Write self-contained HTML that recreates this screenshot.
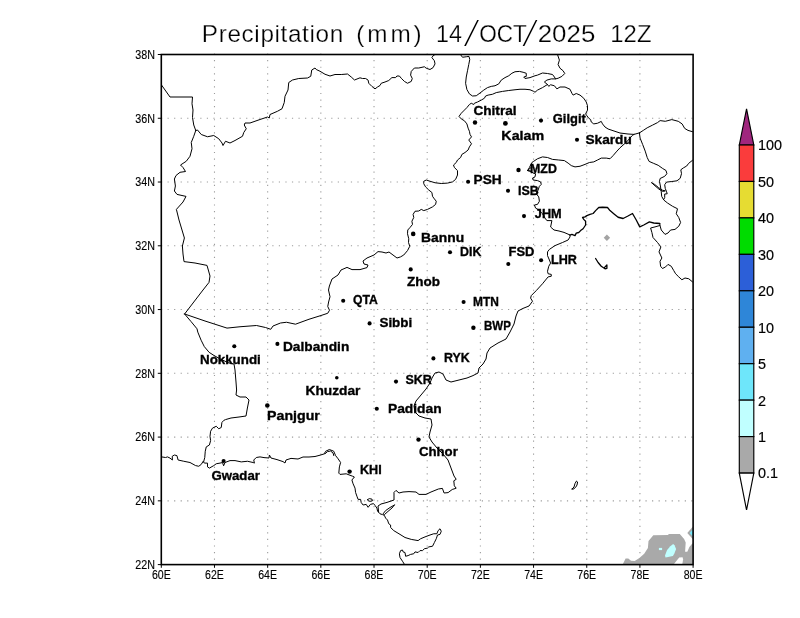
<!DOCTYPE html>
<html lang="en"><head><meta charset="utf-8"><title>Precipitation (mm) 14/OCT/2025 12Z</title>
<style>
html,body{margin:0;padding:0;background:#fff;}
body{width:800px;height:618px;overflow:hidden;}
svg{display:block;}
text{font-family:"Liberation Sans",sans-serif;fill:#000;}
.ttl{font-size:24.3px;stroke:#fff;stroke-width:0.25px;paint-order:fill stroke;}
.sl{font-size:38px;stroke:#fff;stroke-width:1.95px;paint-order:fill stroke;}
.ax{font-size:11.9px;stroke:#000;stroke-width:0.12px;}
.cb{font-size:14.4px;stroke:#000;stroke-width:0.18px;}
.st{font-weight:bold;font-size:13.5px;stroke:#000;stroke-width:0.35px;}
.b{fill:none;stroke:#000;stroke-width:1;stroke-linejoin:round;stroke-linecap:round;}
.bt{fill:none;stroke:#000;stroke-width:1.3;stroke-linejoin:round;stroke-linecap:round;}
.g{fill:none;stroke:#9c9c9c;stroke-width:1.1;}
.gv{stroke-dasharray:1.2 5.358;}
.gh{stroke-dasharray:1.2 5.347;}
</style></head><body><div style="will-change:transform;width:800px;height:618px">
<svg width="800" height="618" viewBox="0 0 800 618">
<rect x="0" y="0" width="800" height="618" fill="#fff"/>
<defs><clipPath id="mc"><rect x="161.3" y="54.5" width="531.80" height="510.10"/></clipPath></defs>
<g clip-path="url(#mc)">
<polygon fill="#a9a9a9" points="621.9,566 625.6,558.6 628.3,558.4 631,560.7 634.7,560.9 639.4,558 644.2,553.8 647.9,548 648.5,541 653.3,535.2 668.1,535 668.7,534.1 679.8,534.1 684.1,538.9 685.7,542.6 685.1,551.7 687.3,551.7 689.4,546.9 692.3,543.5 695,543.5 695,566"/>
<polygon fill="#fff" points="672.4,566 679.2,557.4 682.6,557.2 683.1,559.6 682,566"/>
<polygon fill="#c0ffff" points="665.5,557.5 665,555.4 667.1,550 670.3,546.3 673.2,543.9 674.5,545.3 676.1,549 674.5,553.3 672.9,555.9 668.1,557"/>
<rect x="658.9" y="547.9" width="3.2" height="2.2" fill="#c0ffff"/>
<polygon fill="#a9a9a9" points="687.3,532.9 695,524.1 695,541.7"/>
<polygon fill="#78e8fb" points="689.6,532.9 695,526.8 695,539"/>
</g>
<line class="g gv" x1="214.48" y1="53.55" x2="214.48" y2="564.60"/>
<line class="g gv" x1="267.66" y1="53.55" x2="267.66" y2="564.60"/>
<line class="g gv" x1="320.84" y1="53.55" x2="320.84" y2="564.60"/>
<line class="g gv" x1="374.02" y1="53.55" x2="374.02" y2="564.60"/>
<line class="g gv" x1="427.20" y1="53.55" x2="427.20" y2="564.60"/>
<line class="g gv" x1="480.38" y1="53.55" x2="480.38" y2="564.60"/>
<line class="g gv" x1="533.56" y1="53.55" x2="533.56" y2="564.60"/>
<line class="g gv" x1="586.74" y1="53.55" x2="586.74" y2="564.60"/>
<line class="g gv" x1="639.92" y1="53.55" x2="639.92" y2="564.60"/>
<line class="g gh" x1="161.0" y1="118.26" x2="693.10" y2="118.26"/>
<line class="g gh" x1="161.0" y1="182.03" x2="693.10" y2="182.03"/>
<line class="g gh" x1="161.0" y1="245.79" x2="693.10" y2="245.79"/>
<line class="g gh" x1="161.0" y1="309.55" x2="693.10" y2="309.55"/>
<line class="g gh" x1="161.0" y1="373.31" x2="693.10" y2="373.31"/>
<line class="g gh" x1="161.0" y1="437.08" x2="693.10" y2="437.08"/>
<line class="g gh" x1="161.0" y1="500.84" x2="693.10" y2="500.84"/>
<polygon fill="#a4a4a4" points="606.9,234.5 610.1,237.7 606.9,240.9 603.7,237.7"/>
<g clip-path="url(#mc)">
<polyline class="b" points="161.5,85 170,97 192.5,97 192,103.75 193,110 192.5,117.5 193.75,125 195.75,130.5"/>
<polyline class="b" points="195.75,130.5 197.5,130 201.25,134.5 207.5,136.75 213.75,135.5 218.75,138.75 222,143 223,145.5 225.5,141.25 230,143 235,140.5 242.5,136.25 243.75,132.5 246.25,128.75 244.25,125 245,123 250,123 260,119.5 267.5,117 269.25,118 270,114.5 277.5,111.25 282,108.75 284.25,102.5 285,96.25 288,90 288.75,82.5 292.5,80 298.75,78.5 307.5,78 310.75,76.25 311.75,70 315,68 316.25,69.5 320,71.25 325,74.25 330,76 335,74.5 341.25,74.5 347.5,74 351.25,77 354.5,80 360,77.8 362.5,78.5 365.6,78.5 368.1,80.1 368.75,83.25 371.9,86.4 375,88.9 377.5,87 380,85.5 381.25,83.25 385,82 388.75,80.5 391.9,77.6 395.6,77.6 396.9,76 399.4,76 401.25,78.25 404.4,81.4 407.5,83.25 411.25,81.4 412.25,78.5 410.6,75.1 411.25,71.4 414.4,68 418.75,68 424.4,66.75 426.25,68.25 430,69.5 433.1,67.6 435,63.9 434.4,60.75 431.9,57.6 433.1,55.75 435,54.5"/>
<polyline class="b" points="195.75,130.5 193.75,136.25 191.25,142.5 192,148.75 190,156.25 186.25,161.25 180.5,165 183,167.5 185.5,171.5 180,172.3 176,175.5 174.4,179 175.4,186 174.4,191 177,194.4 186,196.4 183,202 176.4,209.4 179,220 182,230 184.4,238 182.4,246 183,254 184,261.6 195,263 207,265.4 210,276 209,282.4 203,290 184.6,314"/>
<polyline class="b" points="460.4,54.5 462.5,57.25 466.25,56.75 469,56.4 469.75,59.5 468.75,64.5 467.5,70.75 466.25,77 465.6,83.25 466.9,89.5 469.4,93.9 472.5,96 476.25,95.75 480,93 483.75,90.1 487.5,87.6 491.25,86.4 495,85.75 498.75,83.9 501.25,80.1 505,77.6 508.75,75.75 511.9,73.25 515,71.75 519.4,71.4 523.1,72.25 526.25,73.25 526.25,76.4 523.75,77 525,78.5 530,77.6 535,75.75 537.5,75.1 542.5,73 547.5,73.5 552.5,74.5 554.4,77 555.6,78.9 558.1,78.25 561.9,76.4 564.75,73.5 563.1,70.75 560,68.25 558.1,64.5 559.4,60.1 557.5,54.5"/>
<polyline class="b" points="555.6,78.9 551.25,78.9 546.9,80.1 544.4,82 547.5,84.5 548.75,86.4 550.6,84.75 554.4,85.75 556.9,88.9 560,87 565,87 570,89.25 571.9,93.25 573.1,95.1 576.25,93.5 580,95.1 583.75,98.25 586.25,102 587.5,105.75 587.5,110.1 585.6,113.9 586.9,115.75 588.75,118.25 590.6,119.5 591.25,122 593.75,123.9 597.5,123.25 601.25,121.4 602.5,123.9 605,127 608.1,129 614,131 620,133 628,134 634,134.4 639.4,132.9"/>
<polyline class="b" points="547.5,84.5 542.5,87.6 537.5,90.1 535,92.25 533.75,91.4 530,89.75 525,89.25 520,89.25 515,89.75 508.75,90.5 502.5,91.4 496.25,92.6 492.5,94.25 488.1,95.1 485.6,96 484.4,98.25 481.25,100.1 477.5,102 474.4,103.25 473.75,104.5 471.25,103.25 469.4,104.5 466.9,107.6 464.4,110.1 461.25,113.25 459,116.4 461.25,118.9 464.4,120.75 466.9,123.9 468.1,128.1 469.4,131.25 470,134.4 471.5,136.9 468.75,140 471.5,143.75 469.4,146.9 468.1,150 465,152.5 461.9,154.4 460.6,157.5 457.5,160 456.25,162.5 453.5,165 454.4,167.5 457.5,170.6 457.5,175 455.6,179.4 452.5,181.9 447.5,183.1 441.25,183.5 435,182.75 430,181.25 426.25,180 423.75,181.25 423.75,183.75 425.6,186.9 428.75,190 431.9,192.5 432.5,196.25 433.75,198.1 436.25,201.25 435.6,204.4 432.5,206.9 427.5,209.4 423.75,210.6 421.25,209.4 418.75,211 415,211.25 413.1,214.4 413.75,217.5 411.9,221.25 412.5,224.4 410,227.5 407.75,230 407.5,233.75 408.75,238.75 408.5,242.5 409.75,246.25 407.5,250.6 403.75,255 400.5,256.9 397,258 393,255 389,252 386,253 382,252 378,251.6 374,255 367,258 363,261 364,264 368,265 367,267.6 360,269.6 352,269.6 347,267.4 341,270 338,275 332,279 329.4,286 328.5,290 330,296.75 328.6,302 327.75,306.5 329.5,310.25 327.75,313.25 321,315.5 309,319.25 295.5,324.2 286.5,322.25 280.5,323 273,326 270.75,329.3 265.5,327.5 256.5,325.5 240,326.75 227,328.1 205,321 184.6,314"/>
<polyline class="b" points="184.6,314 191,321.5 197,328.8 197.8,332.1 201.1,340.2 204.3,346.6 209.1,352.3 214,355.5 221,359.4 229,363 234,364 235,370 236,382 236.6,390 236,395 240,397 246,397 249,400 247.4,408 246,416 239,417 231,418 225.5,419.6 223.75,420.4 221.9,422.5 221.25,427.5 218.75,428.75 216.25,426.25 212.5,428.1 210.6,431.25 210,436.25 210.6,440.6 209.4,445 206.25,446.9 205.25,451.25 204.75,457.5 203.6,461.9"/>
<polyline class="b" points="161.5,456.9 165.6,457.5 167.5,456.9 170,458.1 172.4,460 172.25,456.25 174.4,455 176.9,455.6 178.1,460 183.75,461.25 190,462.5 195.6,465.6 198.75,466.25 201.25,464.4 203.1,461.4 204.4,463.1 207.5,463.1 207.5,466.9 209.4,468.1 213.75,465.6 216.25,463.75 220,463.1 222.5,462.5 223.6,465.8 225,462.5 230,460.6 235,460.6 241.25,461.9 247.5,461.25 253.1,462.5 254.4,463.1 253.75,460 256.25,457.5 260,456.9 264,457.6 269,458 269.4,455 271,458 277,459.6 283,461.6 285,463 286,460 291,458.4 298,459 303,457 309,457 315,456.5 320,455.2 324.2,453.9 325.6,451.3 329.4,449.5 333.7,451.2 335.6,455.6 338.1,458.8 340.6,462.5 339.4,466.9 338.8,473.1 340,474.4 346.2,473.8 352.5,476.2 354.4,477 351.9,480 353.1,483.8 355,488.1 355.6,492.5 356.9,496.2 358.1,499.4 360.6,499.4 361.2,502.5 363.1,505 366.2,504.4 368.1,507.3 370.4,504.4 373.5,503.6 375,505.4 376.9,508.1 377.6,511.2 380,513.8 382.5,514.6 384.4,515.4 385.6,518.1 387.5,520 388.75,523.75 390.6,525 390.6,527.5 393.75,530.6 400,534.4 405,537.5 411.25,539.4 418.1,540.6 420.6,538.75 425,536.9 430,535 433.75,533.75 436.9,533.75 438.1,530.6 440,528.75 441.25,531.25 440,534.4 437.5,535 436.25,538.75 434.4,542.5 432.5,546.25 428.75,546.9 427.5,548.1 424.4,548.75 422.5,550.6 420,550.6 418.1,552.5 415,551.9 413.75,553.75 410.6,554.4 408.1,555.6 405.6,556.25 405,552.5 403.1,551.9 402.5,550 400.6,550.6 399.4,553.75 400,557.5 402.5,561.25 404.6,564.6"/>
<polyline class="b" points="325,453.8 327.5,451.6 330.6,451 333.1,453.1 333.8,455.6"/>
<polyline class="b" points="367.6,499.6 369.4,498.6 372,499.2 372.6,500.6 370.4,501.4 368.2,500.8 367.6,499.6"/>
<polyline class="b" points="394.4,505 390,507.5 385.6,510.6 383.1,513.8 384.4,514.6 388,511.4 392,508 394.4,505"/>
<polyline class="b" points="570,235 570,236.9 568.1,240 562.5,242.5 555,245.6 549.4,249.4 547.5,251.9 547.5,255.6 549.4,260 550.6,263.1 548.75,266.25 547.5,271.25 548.1,273.75 551.25,274.4 551.25,276.25 548.1,276.9 542.5,283.75 536.25,290.6 531.25,295.6 530.6,298.1 532.5,301.25 529,306 523,308.4 518,311 516,316 514,324 510,332 506,339 498,343 490,348 487,353 486,359 483,364 479,368 478,373 473,375.6 467,378 459,380 451,382 446,380 443,374 439,372 435,373 432,378 430,383 426,389 421,395 416,401 414,406 415,412 419,416 425,418 431,419 432,425 430,432 429,437 432,442 437,448 443,454 448,460 451,468 454,476 456.2,479.3 453.8,480.8 454.3,485.8 456.2,488.2 452.2,489.5 448.1,492.6 444.1,493 442.4,488.4 438.4,489 431,492 426,494.4 419,494.4 416,492 409,491.6 403,492 399,493 396,490.4 394,492.4 394,500 387,502.4 381,504 378,506 378.6,512"/>
<polyline class="b" points="570,235 564,232.4 559,231 554,230 550.6,227 551.9,220.6 546.9,220.6 545,218.1 542.5,213.75 538.75,210 535.6,208.1 534.4,205 537.5,204.4 539.4,201.25 538.75,196.9 536.25,193.75 538.1,190 539.4,186.25 541.25,184.4 540.6,181.9 537.5,180.6 533.1,180 532.5,178.1 535,176.9 535.6,173.75 533.1,173.1 531.25,171.25 527.5,170.6 529.4,167.5 531.9,162.5 533.75,161.25 537.5,158.75 542.5,156.9 547.5,157.5 552.5,159.4 558.75,160 564.4,160.6 568.1,163.1 571.25,165.6 575,166.9 580,166.25 585,164.4 589.4,162.5 593.75,161.9 597.5,160 601.25,158.1 606.25,158.1 610,158.75 613.1,155.6 616.25,151.9 620,147.8 626.5,142 632.3,135.5 634,134.4"/>
<polyline class="bt" points="570,235 571.9,234.4 575,235.6 576.25,233.1 578.75,232.5 580.6,230.6 583.1,228.75 585.6,225 585.6,221.25 583.75,219.4 582.5,217.5 585,216.9 586.9,215.6 590,214.4 593.1,213.5 595.6,210.6 598.75,207.5 602.5,207.25 607.5,207.5 610,210.6 613.75,213.75 618.1,217.25 623.1,218.5 627.5,216.25 632.5,213.5 636.25,220 639.75,226.9 643.75,225 649.4,221.9 653.75,223 659.75,223.5"/>
<polyline class="b" points="639.4,132.9 640.1,138.1 642.7,144.6 645.2,151.1 647.2,157.5 649.1,161.4 653.7,163.4 658.2,165.3 662.7,168.5 666,170.5 666.9,173.7 664.7,176.3 660.1,178.5 659.5,181.5 660.4,186 661.2,191.2 661.7,196.4 663.75,200 667.5,203 672.5,206.25 677.5,208.75 676.25,213.75 678.75,217.5 680.6,222.5 678.75,226.25 675,229.4 670.6,230 668,233 665,234.4 661.25,230 660,225.6 659.75,223.5"/>
<polyline class="b" points="639.4,132.9 643.3,130.4 647.2,127.8 652.4,125.2 657.5,122.6 660.1,120.6 665.3,121.3 671.8,119.6 678.25,121.3 682.1,123.9 684.7,128.4 688,130.4 692.5,131.7"/>
<polyline class="b" points="692.5,160.3 688.6,163.4 686.7,166 683.4,167.9 680.8,169.8 681.5,173.7 680.2,178.3 677,180.8 671.8,181.5 666.6,182.1 664.7,184.7 665.3,188.6 666.6,191.8 667.2,193.8 664.7,194 664.7,197.7 663.6,199.6"/>
<polyline class="b" points="651.7,182.8 655,185.8 659,189.2 662.7,191.4 665.3,190.9 662.4,190.2 658.6,187.6 654.6,184.4 651.7,182.8"/>
<polyline class="b" points="659.9,225.5 655,226.9 650.6,228 651.9,232.5 653,237.5 657.5,242.5 660.9,246.9 659,251.9 661.9,258 660,261.25 660.6,266.25 662.5,268.5 665.6,266.9 668,264.4 671.25,266.25 673.75,270.6 675.6,273.75 678.75,276.9 681.9,279.75 685,278 688.75,278.75 692.5,281.9"/>
<polyline class="bt" points="595.6,258.5 598.1,262.5 601.25,266.25 605,268.75 606.9,268.3 606.9,265 604.6,267.4"/>
<polyline class="b" points="572,489 574,487 575,483.5 576.5,481 577.6,482 577,485 575.5,487.5 573,489.3 572,489"/>
<polyline class="b" points="527.5,170.5 531.6,167 531.6,171.5 527.5,170.5"/>
</g>
<rect x="161.3" y="54.5" width="531.80" height="510.10" fill="none" stroke="#000" stroke-width="1.6"/>
<line x1="161.30" y1="564.60" x2="161.30" y2="567.80" stroke="#000" stroke-width="1"/>
<text class="ax" x="161.30" y="578.5" text-anchor="middle" textLength="18.8" lengthAdjust="spacingAndGlyphs">60E</text>
<line x1="214.48" y1="564.60" x2="214.48" y2="567.80" stroke="#000" stroke-width="1"/>
<text class="ax" x="214.48" y="578.5" text-anchor="middle" textLength="18.8" lengthAdjust="spacingAndGlyphs">62E</text>
<line x1="267.66" y1="564.60" x2="267.66" y2="567.80" stroke="#000" stroke-width="1"/>
<text class="ax" x="267.66" y="578.5" text-anchor="middle" textLength="18.8" lengthAdjust="spacingAndGlyphs">64E</text>
<line x1="320.84" y1="564.60" x2="320.84" y2="567.80" stroke="#000" stroke-width="1"/>
<text class="ax" x="320.84" y="578.5" text-anchor="middle" textLength="18.8" lengthAdjust="spacingAndGlyphs">66E</text>
<line x1="374.02" y1="564.60" x2="374.02" y2="567.80" stroke="#000" stroke-width="1"/>
<text class="ax" x="374.02" y="578.5" text-anchor="middle" textLength="18.8" lengthAdjust="spacingAndGlyphs">68E</text>
<line x1="427.20" y1="564.60" x2="427.20" y2="567.80" stroke="#000" stroke-width="1"/>
<text class="ax" x="427.20" y="578.5" text-anchor="middle" textLength="18.8" lengthAdjust="spacingAndGlyphs">70E</text>
<line x1="480.38" y1="564.60" x2="480.38" y2="567.80" stroke="#000" stroke-width="1"/>
<text class="ax" x="480.38" y="578.5" text-anchor="middle" textLength="18.8" lengthAdjust="spacingAndGlyphs">72E</text>
<line x1="533.56" y1="564.60" x2="533.56" y2="567.80" stroke="#000" stroke-width="1"/>
<text class="ax" x="533.56" y="578.5" text-anchor="middle" textLength="18.8" lengthAdjust="spacingAndGlyphs">74E</text>
<line x1="586.74" y1="564.60" x2="586.74" y2="567.80" stroke="#000" stroke-width="1"/>
<text class="ax" x="586.74" y="578.5" text-anchor="middle" textLength="18.8" lengthAdjust="spacingAndGlyphs">76E</text>
<line x1="639.92" y1="564.60" x2="639.92" y2="567.80" stroke="#000" stroke-width="1"/>
<text class="ax" x="639.92" y="578.5" text-anchor="middle" textLength="18.8" lengthAdjust="spacingAndGlyphs">78E</text>
<line x1="693.10" y1="564.60" x2="693.10" y2="567.80" stroke="#000" stroke-width="1"/>
<text class="ax" x="693.10" y="578.5" text-anchor="middle" textLength="18.8" lengthAdjust="spacingAndGlyphs">80E</text>
<line x1="157.80" y1="54.50" x2="161.30" y2="54.50" stroke="#000" stroke-width="1"/>
<text class="ax" x="154.9" y="58.80" text-anchor="end" textLength="19.7" lengthAdjust="spacingAndGlyphs">38N</text>
<line x1="157.80" y1="118.26" x2="161.30" y2="118.26" stroke="#000" stroke-width="1"/>
<text class="ax" x="154.9" y="122.56" text-anchor="end" textLength="19.7" lengthAdjust="spacingAndGlyphs">36N</text>
<line x1="157.80" y1="182.03" x2="161.30" y2="182.03" stroke="#000" stroke-width="1"/>
<text class="ax" x="154.9" y="186.33" text-anchor="end" textLength="19.7" lengthAdjust="spacingAndGlyphs">34N</text>
<line x1="157.80" y1="245.79" x2="161.30" y2="245.79" stroke="#000" stroke-width="1"/>
<text class="ax" x="154.9" y="250.09" text-anchor="end" textLength="19.7" lengthAdjust="spacingAndGlyphs">32N</text>
<line x1="157.80" y1="309.55" x2="161.30" y2="309.55" stroke="#000" stroke-width="1"/>
<text class="ax" x="154.9" y="313.85" text-anchor="end" textLength="19.7" lengthAdjust="spacingAndGlyphs">30N</text>
<line x1="157.80" y1="373.31" x2="161.30" y2="373.31" stroke="#000" stroke-width="1"/>
<text class="ax" x="154.9" y="377.61" text-anchor="end" textLength="19.7" lengthAdjust="spacingAndGlyphs">28N</text>
<line x1="157.80" y1="437.08" x2="161.30" y2="437.08" stroke="#000" stroke-width="1"/>
<text class="ax" x="154.9" y="441.38" text-anchor="end" textLength="19.7" lengthAdjust="spacingAndGlyphs">26N</text>
<line x1="157.80" y1="500.84" x2="161.30" y2="500.84" stroke="#000" stroke-width="1"/>
<text class="ax" x="154.9" y="505.14" text-anchor="end" textLength="19.7" lengthAdjust="spacingAndGlyphs">24N</text>
<line x1="157.80" y1="564.60" x2="161.30" y2="564.60" stroke="#000" stroke-width="1"/>
<text class="ax" x="154.9" y="568.90" text-anchor="end" textLength="19.7" lengthAdjust="spacingAndGlyphs">22N</text>
<text class="sl" x="461.80" y="47" textLength="19.5" lengthAdjust="spacingAndGlyphs">/</text>
<text class="sl" x="520.30" y="47" textLength="19.5" lengthAdjust="spacingAndGlyphs">/</text>
<text class="ttl" x="201.84" y="41.9" textLength="141.38" lengthAdjust="spacing">Precipitation</text>
<text class="ttl" x="356.30" y="41.9" textLength="65.30" lengthAdjust="spacing">(mm)</text>
<text class="ttl" x="435.92" y="41.9" textLength="25.96" lengthAdjust="spacingAndGlyphs">14</text>
<text class="ttl" x="479.18" y="41.9" textLength="47.70" lengthAdjust="spacingAndGlyphs">OCT</text>
<text class="ttl" x="537.68" y="41.9" textLength="57.62" lengthAdjust="spacingAndGlyphs">2025</text>
<text class="ttl" x="610.30" y="41.9" textLength="41.20" lengthAdjust="spacingAndGlyphs">12Z</text>
<polygon points="739.3,145.0 746.55,108.8 753.8,145.0" fill="#a0267e" stroke="#000" stroke-width="1.15" stroke-linejoin="miter"/>
<rect x="739.3" y="145.00" width="14.50" height="36.45" fill="#fa3c3c" stroke="#000" stroke-width="1.15"/>
<rect x="739.3" y="181.45" width="14.50" height="36.45" fill="#e6dc32" stroke="#000" stroke-width="1.15"/>
<rect x="739.3" y="217.90" width="14.50" height="36.45" fill="#00dc00" stroke="#000" stroke-width="1.15"/>
<rect x="739.3" y="254.35" width="14.50" height="36.45" fill="#2c5fd8" stroke="#000" stroke-width="1.15"/>
<rect x="739.3" y="290.80" width="14.50" height="36.45" fill="#2e86d8" stroke="#000" stroke-width="1.15"/>
<rect x="739.3" y="327.25" width="14.50" height="36.45" fill="#5fb0f0" stroke="#000" stroke-width="1.15"/>
<rect x="739.3" y="363.70" width="14.50" height="36.45" fill="#6ee6fa" stroke="#000" stroke-width="1.15"/>
<rect x="739.3" y="400.15" width="14.50" height="36.45" fill="#c0ffff" stroke="#000" stroke-width="1.15"/>
<rect x="739.3" y="436.60" width="14.50" height="36.45" fill="#a9a9a9" stroke="#000" stroke-width="1.15"/>
<polygon points="739.3,473.05 746.55,510 753.8,473.05" fill="#fff" stroke="#000" stroke-width="1.15" stroke-linejoin="miter"/>
<text class="cb" x="757.9" y="150.40">100</text>
<text class="cb" x="757.9" y="186.85">50</text>
<text class="cb" x="757.9" y="223.30">40</text>
<text class="cb" x="757.9" y="259.75">30</text>
<text class="cb" x="757.9" y="296.20">20</text>
<text class="cb" x="757.9" y="332.65">10</text>
<text class="cb" x="757.9" y="369.10">5</text>
<text class="cb" x="757.9" y="405.55">2</text>
<text class="cb" x="757.9" y="442.00">1</text>
<text class="cb" x="757.9" y="478.45">0.1</text>
<circle cx="475" cy="122.5" r="2.2" fill="#000"/>
<text class="st" x="473.40" y="114.6" textLength="43.22" lengthAdjust="spacingAndGlyphs">Chitral</text>
<circle cx="505.4" cy="123.4" r="2.4" fill="#000"/>
<text class="st" x="501.35" y="140" textLength="42.77" lengthAdjust="spacingAndGlyphs">Kalam</text>
<circle cx="541" cy="120.6" r="2.05" fill="#000"/>
<text class="st" x="552.82" y="122.8" textLength="33.00" lengthAdjust="spacingAndGlyphs">Gilgit</text>
<circle cx="577" cy="139.8" r="2.05" fill="#000"/>
<text class="st" x="585.52" y="143.6" textLength="46.30" lengthAdjust="spacingAndGlyphs">Skardu</text>
<circle cx="518.5" cy="170" r="2.2" fill="#000"/>
<text class="st" x="530.06" y="172.5" textLength="26.84" lengthAdjust="spacingAndGlyphs">MZD</text>
<circle cx="468.1" cy="181.7" r="2.05" fill="#000"/>
<text class="st" x="473.60" y="184.4" textLength="28.10" lengthAdjust="spacingAndGlyphs">PSH</text>
<circle cx="508" cy="190.8" r="2.05" fill="#000"/>
<text class="st" x="517.94" y="194.5" textLength="20.80" lengthAdjust="spacingAndGlyphs">ISB</text>
<circle cx="524" cy="216.1" r="2.05" fill="#000"/>
<text class="st" x="534.82" y="218.4" textLength="26.88" lengthAdjust="spacingAndGlyphs">JHM</text>
<circle cx="413.2" cy="233.9" r="2.3" fill="#000"/>
<text class="st" x="421.10" y="241.8" textLength="43.10" lengthAdjust="spacingAndGlyphs">Bannu</text>
<circle cx="450" cy="252.2" r="2.05" fill="#000"/>
<text class="st" x="460.06" y="255.9" textLength="21.34" lengthAdjust="spacingAndGlyphs">DIK</text>
<circle cx="508.3" cy="264" r="2.05" fill="#000"/>
<text class="st" x="508.52" y="255.8" textLength="25.84" lengthAdjust="spacingAndGlyphs">FSD</text>
<circle cx="541.1" cy="260.2" r="2.05" fill="#000"/>
<text class="st" x="550.94" y="263.6" textLength="25.92" lengthAdjust="spacingAndGlyphs">LHR</text>
<circle cx="410.7" cy="269.4" r="2.05" fill="#000"/>
<text class="st" x="406.98" y="285.8" textLength="32.92" lengthAdjust="spacingAndGlyphs">Zhob</text>
<circle cx="343.2" cy="300.8" r="2.05" fill="#000"/>
<text class="st" x="352.98" y="303.7" textLength="24.84" lengthAdjust="spacingAndGlyphs">QTA</text>
<circle cx="463.6" cy="302" r="2.05" fill="#000"/>
<text class="st" x="472.98" y="305.6" textLength="25.84" lengthAdjust="spacingAndGlyphs">MTN</text>
<circle cx="369.6" cy="323.4" r="2.05" fill="#000"/>
<text class="st" x="379.44" y="326.8" textLength="32.76" lengthAdjust="spacingAndGlyphs">Sibbi</text>
<circle cx="473.4" cy="327.8" r="2.2" fill="#000"/>
<text class="st" x="483.98" y="330.4" textLength="26.84" lengthAdjust="spacingAndGlyphs">BWP</text>
<circle cx="234.3" cy="346.3" r="2.05" fill="#000"/>
<text class="st" x="200.02" y="363.6" textLength="60.76" lengthAdjust="spacingAndGlyphs">Nokkundi</text>
<circle cx="277.4" cy="343.9" r="2.05" fill="#000"/>
<text class="st" x="282.98" y="350.9" textLength="66.30" lengthAdjust="spacingAndGlyphs">Dalbandin</text>
<circle cx="433.4" cy="358.4" r="2.05" fill="#000"/>
<text class="st" x="443.90" y="361.6" textLength="25.84" lengthAdjust="spacingAndGlyphs">RYK</text>
<circle cx="336.8" cy="377.8" r="1.8" fill="#000"/>
<text class="st" x="305.48" y="394.5" textLength="54.96" lengthAdjust="spacingAndGlyphs">Khuzdar</text>
<circle cx="396" cy="381.6" r="2.05" fill="#000"/>
<text class="st" x="405.52" y="384.4" textLength="26.34" lengthAdjust="spacingAndGlyphs">SKR</text>
<circle cx="267.3" cy="405.5" r="2.3" fill="#000"/>
<text class="st" x="267.10" y="419.6" textLength="52.80" lengthAdjust="spacingAndGlyphs">Panjgur</text>
<circle cx="376.8" cy="408.8" r="2.05" fill="#000"/>
<text class="st" x="387.94" y="412.6" textLength="53.76" lengthAdjust="spacingAndGlyphs">Padidan</text>
<circle cx="418.5" cy="439.6" r="2.2" fill="#000"/>
<text class="st" x="418.90" y="456" textLength="38.92" lengthAdjust="spacingAndGlyphs">Chhor</text>
<circle cx="223.6" cy="461" r="2.05" fill="#000"/>
<text class="st" x="211.48" y="479.5" textLength="48.42" lengthAdjust="spacingAndGlyphs">Gwadar</text>
<circle cx="349.6" cy="471.6" r="2.2" fill="#000"/>
<text class="st" x="360.02" y="474" textLength="21.68" lengthAdjust="spacingAndGlyphs">KHI</text>
</svg></div></body></html>
